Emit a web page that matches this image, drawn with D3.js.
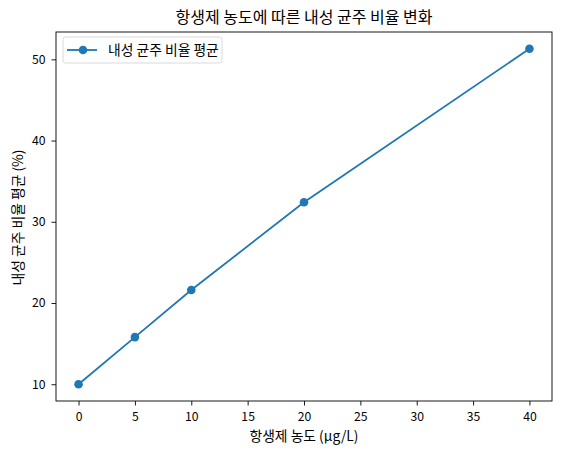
<!DOCTYPE html>
<html>
<head>
<meta charset="utf-8">
<script src="https://cdn.jsdelivr.net/npm/d3@7"></script>
<style>
  body { margin: 0; background: #fff; }
  svg text { font-family: "Noto Sans CJK KR", "Noto Sans", sans-serif; fill: #000; }
</style>
</head>
<body>
<div id="chart"></div>
<script>
"use strict";
// données
const concentrations = [0, 5, 10, 20, 40];
const resistRatio = [10.0, 15.8, 21.6, 32.4, 51.3];
const xTicks = [0, 5, 10, 15, 20, 25, 30, 35, 40];
const yTicks = [10, 20, 30, 40, 50];
const seriesName = "내성 균주 비율 평균";

const width = 561, height = 455;
const margin = {top: 32, right: 9, bottom: 54, left: 56};
const color = "#1f77b4";

const svg = d3.select("#chart").append("svg")
    .attr("width", width).attr("height", height);

// marges de 5% comme matplotlib
const xPad = (d3.max(concentrations) - d3.min(concentrations)) * 0.05,
      yPad = (d3.max(resistRatio) - d3.min(resistRatio)) * 0.05;

const x = d3.scaleLinear()
    .domain([d3.min(concentrations) - xPad, d3.max(concentrations) + xPad])
    .range([margin.left, width - margin.right]);
const y = d3.scaleLinear()
    .domain([d3.min(resistRatio) - yPad, d3.max(resistRatio) + yPad])
    .range([height - margin.bottom, margin.top]);

const xAxis = svg.append("g")
    .attr("transform", `translate(0,${height - margin.bottom})`)
    .call(d3.axisBottom(x).tickValues(xTicks).tickSize(4.5).tickPadding(6.5).tickFormat(d3.format("d")));
const yAxis = svg.append("g")
    .attr("transform", `translate(${margin.left},0)`)
    .call(d3.axisLeft(y).tickValues(yTicks).tickSize(4.5).tickPadding(6).tickFormat(d3.format("d")));
[xAxis, yAxis].forEach(a => {
    a.select(".domain").remove();
    a.selectAll("text").attr("font-size", 12.2).attr("fill", "#000")
        .style("font-family", '"Noto Sans CJK KR", sans-serif');
    a.selectAll("line").attr("stroke", "#000").attr("stroke-width", 0.9);
});

// cadre
svg.append("rect")
    .attr("x", margin.left).attr("y", margin.top)
    .attr("width", width - margin.left - margin.right)
    .attr("height", height - margin.top - margin.bottom)
    .attr("fill", "none").attr("stroke", "#000").attr("stroke-width", 0.9);

const pts = concentrations.map((c, i) => ({c: c, v: resistRatio[i]}));

svg.append("path")
    .datum(pts)
    .attr("fill", "none").attr("stroke", color).attr("stroke-width", 1.8)
    .attr("d", d3.line().x(d => x(d.c)).y(d => y(d.v)));

svg.selectAll("circle.pt").data(pts).enter().append("circle")
    .attr("class", "pt")
    .attr("cx", d => x(d.c)).attr("cy", d => y(d.v))
    .attr("r", 4.3).attr("fill", color);

// titre et libellés
svg.append("text")
    .attr("x", (margin.left + width - margin.right) / 2).attr("y", 22.5)
    .attr("text-anchor", "middle").attr("font-size", 16)
    .text("항생제 농도에 따른 내성 균주 비율 변화");
svg.append("text")
    .attr("x", (margin.left + width - margin.right) / 2).attr("y", 441)
    .attr("text-anchor", "middle").attr("font-size", 13.8)
    .text("항생제 농도 (μg/L)");
svg.append("text")
    .attr("transform", `translate(22.5,${(margin.top + height - margin.bottom) / 2 + 1}) rotate(-90)`)
    .attr("text-anchor", "middle").attr("font-size", 13.8)
    .text("내성 균주 비율 평균 (%)");

// légende
const lg = svg.append("g").attr("transform", `translate(${margin.left + 7},${margin.top + 5})`);
lg.append("rect")
    .attr("width", 159).attr("height", 26).attr("rx", 2.5)
    .attr("fill", "#fff").attr("fill-opacity", 0.8)
    .attr("stroke", "#d6d6d6").attr("stroke-width", 0.9);
lg.append("line")
    .attr("x1", 4).attr("x2", 34).attr("y1", 13).attr("y2", 13)
    .attr("stroke", color).attr("stroke-width", 1.8);
lg.append("circle").attr("cx", 20).attr("cy", 13).attr("r", 4.3).attr("fill", color);
lg.append("text")
    .attr("x", 45).attr("y", 17.8).attr("font-size", 13.8)
    .text(seriesName);
</script>
</body>
</html>
